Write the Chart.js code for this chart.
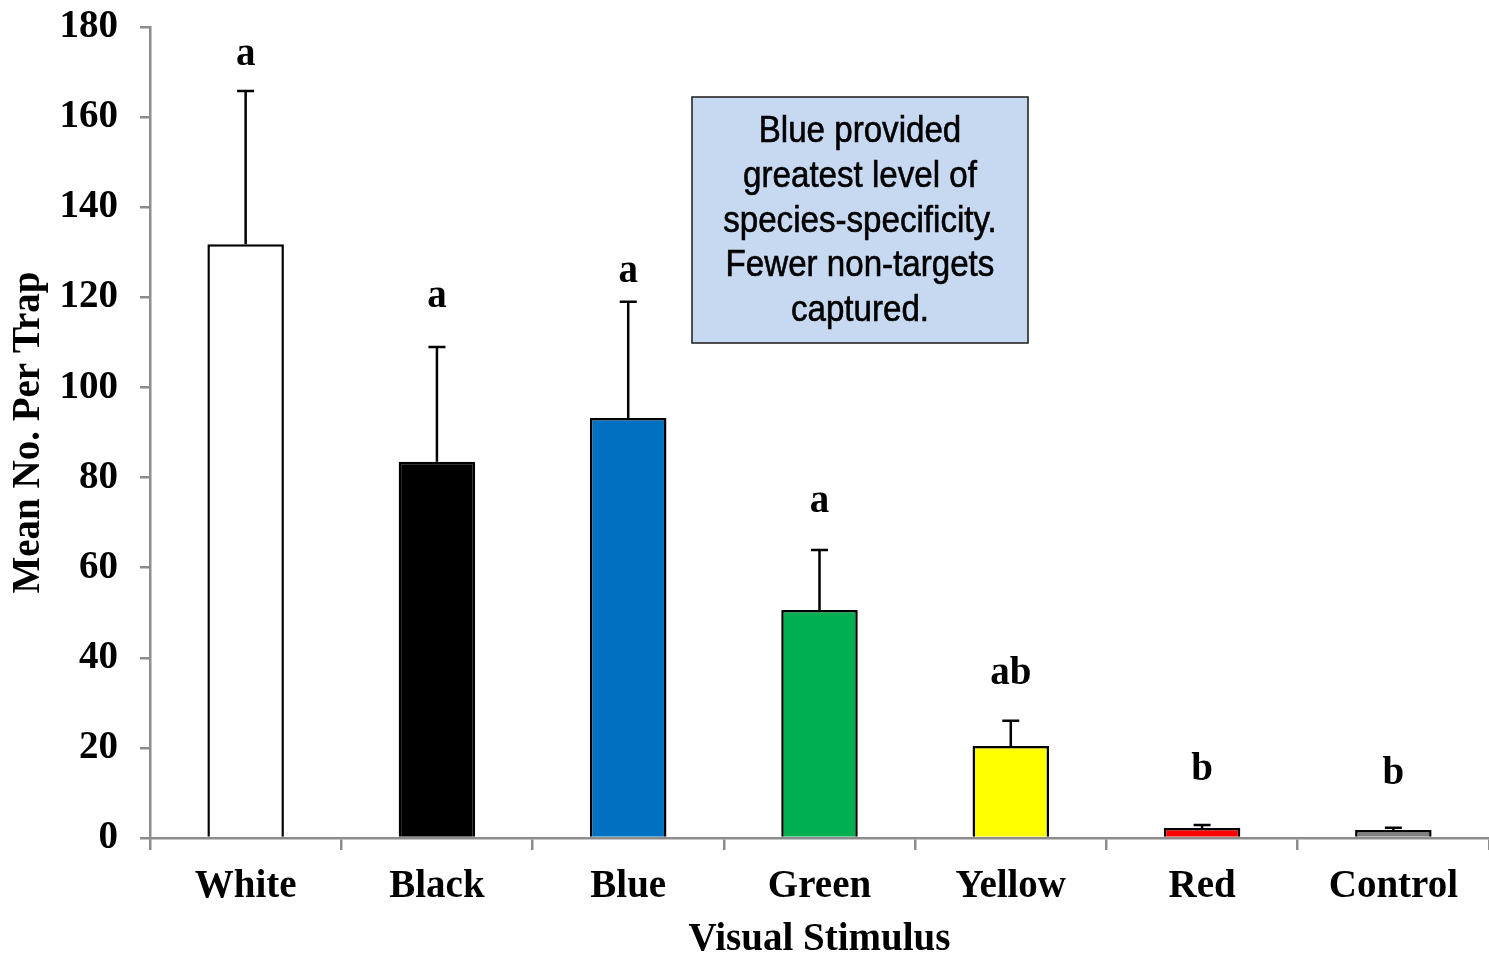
<!DOCTYPE html>
<html>
<head>
<meta charset="utf-8">
<script src="https://cdn.jsdelivr.net/npm/chart.js@4"></script>
<style>
  body { margin: 0; background: #fff; }
  canvas { display: block; }
</style>
</head>
<body>
<canvas id="stimulusChart" width="1489" height="959"></canvas>
<script>
// Data
const stimuli = ['White', 'Black', 'Blue', 'Green', 'Yellow', 'Red', 'Control'];
const meanPerTrap = [131.8, 83.5, 93.2, 50.6, 20.4, 2.2, 1.8];
const errorTop = [165.8, 109.0, 119.0, 63.9, 26.0, 2.9, 2.3];
const groupLetters = ['a', 'a', 'a', 'a', 'ab', 'b', 'b'];
const letterAt = [173.8, 120.0, 125.6, 74.6, 36.4, 15.1, 14.2];
const barColors = ['#FFFFFF', '#000000', '#0070C0', '#00B050', '#FFFF00', '#FF0000', '#808080'];
const yTicks = [0, 20, 40, 60, 80, 100, 120, 140, 160, 180];
const noteLines = ['Blue provided', 'greatest level of', 'species-specificity.', 'Fewer non-targets', 'captured.'];

const serifBold = { family: "'Liberation Serif', 'Times New Roman', serif", weight: 'bold', size: 39 };
const axisGrey = '#8c8c8c';

// error bars and the letters above them
const errorBarPlugin = {
    id: 'errorBars',
    afterDatasetsDraw(chart) {
        const ctx = chart.ctx;
        const y = chart.scales.y;
        const meta = chart.getDatasetMeta(0);
        ctx.save();
        ctx.strokeStyle = '#000';
        ctx.lineWidth = 2.5;
        meta.data.forEach((bar, i) => {
            const top = y.getPixelForValue(meanPerTrap[i]);
            const end = y.getPixelForValue(errorTop[i]);
            ctx.beginPath();
            ctx.moveTo(bar.x, top);
            ctx.lineTo(bar.x, end);
            ctx.moveTo(bar.x - 8.5, end);
            ctx.lineTo(bar.x + 8.5, end);
            ctx.stroke();
        });
        ctx.fillStyle = '#000';
        ctx.font = `bold 39px ${serifBold.family}`;
        ctx.textAlign = 'center';
        ctx.textBaseline = 'middle';
        meta.data.forEach((bar, i) => {
            ctx.fillText(groupLetters[i], bar.x, y.getPixelForValue(letterAt[i]));
        });
        ctx.restore();
    }
};

// the blue text box
const noteBoxPlugin = {
    id: 'noteBox',
    afterDraw(chart) {
        const ctx = chart.ctx;
        const box = { x: 692, y: 97, w: 336, h: 246 };
        ctx.save();
        ctx.fillStyle = '#C6D9F1';
        ctx.fillRect(box.x, box.y, box.w, box.h);
        ctx.strokeStyle = '#1a1a1a';
        ctx.lineWidth = 1.5;
        ctx.strokeRect(box.x, box.y, box.w, box.h);
        ctx.fillStyle = '#000';
        ctx.strokeStyle = '#000';
        ctx.lineWidth = 0.6;
        ctx.font = "36px 'Liberation Sans', Arial, sans-serif";
        ctx.textAlign = 'center';
        ctx.textBaseline = 'middle';
        const cx = box.x + box.w / 2;
        noteLines.forEach((line, i) => {
            ctx.save();
            ctx.translate(cx, 132 + i * 44.8);
            ctx.scale(0.92, 1);
            ctx.fillText(line, 0, 0);
            ctx.strokeText(line, 0, 0);
            ctx.restore();
        });
        ctx.restore();
    }
};

const ctx = document.getElementById('stimulusChart').getContext('2d');
const stimulusChart = new Chart(ctx, {
    type: 'bar',
    data: {
        labels: stimuli,
        datasets: [{
            label: 'Mean No. Per Trap',
            data: meanPerTrap,
            backgroundColor: barColors,
            borderColor: '#000',
            borderWidth: 2.5,
            categoryPercentage: 1.0,
            barPercentage: 0.4,
        }]
    },
    options: {
        responsive: false,
        animation: false,
        layout: { padding: { top: 27, right: 0, left: 0, bottom: 0 } },
        plugins: {
            legend: { display: false },
            tooltip: { enabled: false },
        },
        scales: {
            x: {
                grid: {
                    offset: true,
                    drawOnChartArea: false,
                    drawTicks: true,
                    tickLength: 12,
                    color: axisGrey,
                    lineWidth: 2.5,
                },
                border: { color: axisGrey, width: 2.5 },
                ticks: { color: '#000', font: serifBold, padding: 14, maxRotation: 0 },
                title: {
                    display: true,
                    text: 'Visual Stimulus',
                    color: '#000',
                    font: { ...serifBold, lineHeight: 1 },
                    padding: { top: 9, bottom: 0 },
                },
                afterFit: scale => {
                    scale.height = 121;
                    scale.paddingLeft = 0;
                    scale.paddingRight = 0;
                },
            },
            y: {
                min: 0,
                max: 180,
                afterBuildTicks: scale => { scale.ticks = yTicks.map(v => ({ value: v })); },
                grid: {
                    drawOnChartArea: false,
                    drawTicks: true,
                    tickLength: 10,
                    color: axisGrey,
                    lineWidth: 2.5,
                },
                border: { color: axisGrey, width: 2.5 },
                ticks: { color: '#000', font: serifBold, padding: 22 },
                title: {
                    display: true,
                    text: 'Mean No. Per Trap',
                    color: '#000',
                    font: serifBold,
                    padding: { top: 6, bottom: 0 },
                },
                afterFit: scale => {
                    scale.width = 150;
                    scale.paddingTop = 0;
                    scale.paddingBottom = 0;
                },
            }
        }
    },
    plugins: [errorBarPlugin, noteBoxPlugin]
});
</script>
</body>
</html>
